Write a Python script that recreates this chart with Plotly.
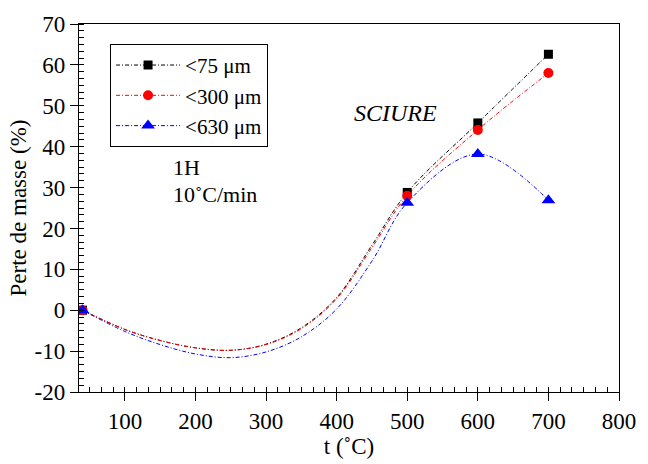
import plotly.graph_objects as go

# Measured points (temperature °C, mass loss %)
t_meas = [40, 500, 600, 700]
y75_meas = [0, 28.8, 45.8, 62.6]
y300_meas = [0, 28.0, 44.1, 58.0]
y630_meas = [0, 26.3, 38.2, 26.9]

# Smooth connecting curves
t_curve = [40, 100, 150, 200, 250, 300, 350, 400, 450, 500, 600, 700]
y75_curve = [0, -4.7, -7.4, -9.2, -9.8, -8.3, -4.3, 3.1, 15.9, 28.8, 45.8, 62.6]
y300_curve = [0, -4.7, -7.4, -9.2, -9.8, -8.4, -4.5, 2.8, 15.3, 28.0, 44.1, 58.0]
y630_curve = [0, -5.2, -8.4, -10.7, -11.6, -10.2, -6.5, 0.3, 12.0, 26.3, 38.2, 26.9]

# Axis ticks
x_ticks = [100, 200, 300, 400, 500, 600, 700, 800]
x_tick_labels = ["100", "200", "300", "400", "500", "600", "700", "800"]
y_ticks = [-20, -10, 0, 10, 20, 30, 40, 50, 60, 70]
y_tick_labels = ["-20", "-10", "0", "10", "20", "30", "40", "50", "60", "70"]

names = ["&lt;75 μm", "&lt;300 μm", "&lt;630 μm"]
colors = ["#000000", "#ff0000", "#0000ff"]
symbols = ["square", "circle", "triangle-up"]
sizes = [9, 10, 12]

FONT = "Liberation Serif"
DASH = "4px,2px,1px,2px"

fig = go.Figure()
curves = [y75_curve, y300_curve, y630_curve]
meas = [y75_meas, y300_meas, y630_meas]
for i in range(3):
    fig.add_trace(go.Scatter(
        x=t_curve, y=curves[i], mode="lines",
        line=dict(color=colors[i], width=1, dash=DASH, shape="spline", smoothing=1.0),
        showlegend=False, hoverinfo="skip"))
for i in range(3):
    fig.add_trace(go.Scatter(
        x=t_meas, y=meas[i], mode="markers",
        marker=dict(symbol=symbols[i], size=sizes[i], color=colors[i], line=dict(width=0)),
        showlegend=False))
for i in range(3):
    fig.add_trace(go.Scatter(
        x=[None], y=[None], mode="lines+markers", name=names[i],
        line=dict(color=colors[i], width=1, dash=DASH),
        marker=dict(symbol=symbols[i], size=sizes[i], color=colors[i], line=dict(width=0))))

axis_common = dict(
    showline=True, linecolor="black", linewidth=1.3, mirror=True,
    ticks="outside", ticklen=8, tickwidth=1.3, tickcolor="black",
    showgrid=False, zeroline=False,
    tickfont=dict(family=FONT, size=23, color="black"),
)

fig.update_xaxes(
    range=[35, 800], tickmode="array", tickvals=x_ticks, ticktext=x_tick_labels,
    minor=dict(ticks="inside", ticklen=5, tickwidth=1, tickcolor="black", dtick=100/6, tick0=0, showgrid=False),
    title=dict(text="t (˚C)", font=dict(family=FONT, size=23, color="black"), standoff=2),
    **axis_common)
fig.update_yaxes(
    range=[-20, 70], tickmode="array", tickvals=y_ticks, ticktext=y_tick_labels,
    minor=dict(ticks="inside", ticklen=5, tickwidth=1, tickcolor="black", dtick=10/6, tick0=0, showgrid=False),
    title=dict(text="Perte de masse (%)", font=dict(family=FONT, size=23, color="black"), standoff=1),
    **axis_common)

fig.add_annotation(x=484, y=48.3, xref="x", yref="y", text="<i>SCIURE</i>", showarrow=False,
                   font=dict(family=FONT, size=24, color="black"))
fig.add_annotation(x=166, y=34.8, xref="x", yref="y", text="1H", showarrow=False, xanchor="left",
                   font=dict(family=FONT, size=22, color="black"))
fig.add_annotation(x=166, y=28.2, xref="x", yref="y", text="10˚C/min", showarrow=False, xanchor="left",
                   font=dict(family=FONT, size=22, color="black"))

fig.update_layout(
    width=648, height=464,
    margin=dict(l=79, r=18, t=21, b=57),
    paper_bgcolor="white", plot_bgcolor="white",
    font=dict(family=FONT, size=22, color="black"),
    legend=dict(x=0.0575, y=0.946, xanchor="left", yanchor="top",
                bordercolor="black", borderwidth=1, bgcolor="white",
                font=dict(family=FONT, size=21, color="black"),
                itemwidth=64, tracegroupgap=0),
)

fig.write_html("out.html")
